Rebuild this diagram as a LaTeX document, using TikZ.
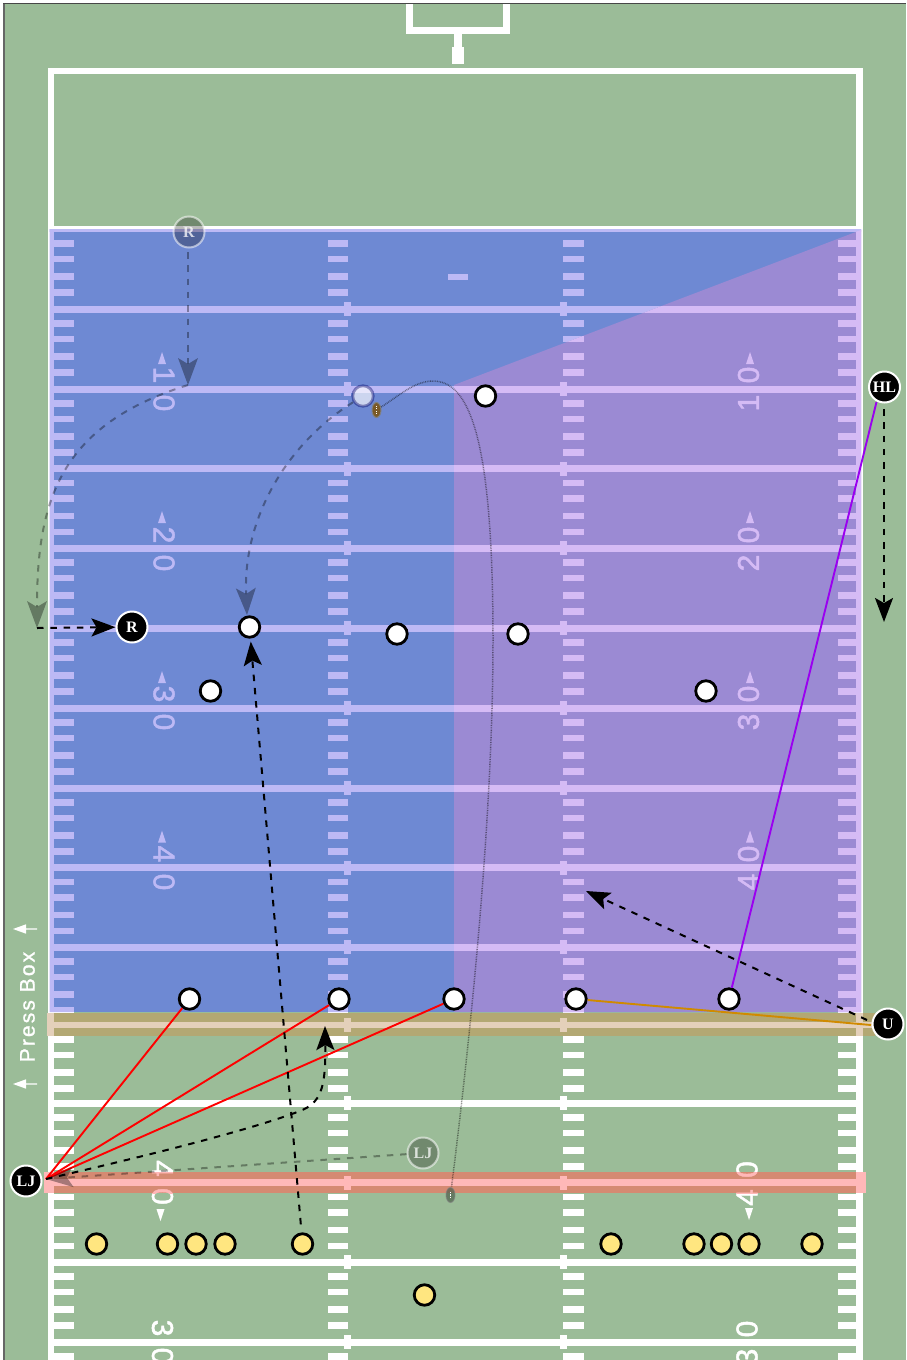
\documentclass[tikz,border=0pt]{standalone}
\usepackage{fontspec}
\setmainfont{Liberation Sans}
\newfontfamily\labelfont{Liberation Serif}[BoldFont={Liberation Serif Bold}]
\newfontfamily\numfont{Liberation Sans}[FakeBold=1.6]
\newfontfamily\pressfont{Liberation Sans}[FakeBold=1.2,LetterSpace=10]
\usetikzlibrary{arrows.meta,shapes.geometric}
\definecolor{turf}{HTML}{9BBC98}
\definecolor{framegray}{HTML}{666666}
\definecolor{bluezone}{HTML}{6E89D3}
\definecolor{purplezone}{HTML}{9B8AD3}
\definecolor{bluemark}{HTML}{BDB9F5}
\definecolor{purplemark}{HTML}{D5BBF5}
\definecolor{tanband}{HTML}{B3A873}
\definecolor{tanmark}{HTML}{E4D0BA}
\definecolor{redband}{HTML}{D58A72}
\definecolor{redmark}{HTML}{FFB8B8}
\definecolor{playeryellow}{HTML}{FFE680}
\definecolor{routeorange}{HTML}{D08A00}
\definecolor{routepurple}{HTML}{9A00F0}
\definecolor{ballbrown}{HTML}{7A5A28}
\tikzset{
  whiteplayer/.style={circle,draw=black,fill=white,line width=2.8pt,minimum size=20.5pt,inner sep=0pt},
  yellowplayer/.style={whiteplayer,fill=playeryellow},
  ghostplayer/.style={circle,draw=black!60!blue,draw opacity=.4,fill=white,fill opacity=.65,line width=2.8pt,minimum size=20.5pt,inner sep=0pt},
  official/.style={circle,draw=white,fill=black,line width=2pt,minimum size=31pt,inner sep=0pt,text=white,font=\labelfont\bfseries\fontsize{16}{16}\selectfont},
  ghostofficial/.style={official,draw opacity=.55,fill opacity=.27,text opacity=.75},
  ballnode/.style={ellipse,draw=gray,line width=1pt,fill=ballbrown,minimum width=9pt,minimum height=15pt,inner sep=0pt},
  yardnum/.style={inner sep=0pt,font=\numfont\fontsize{30}{30}\selectfont},
  route/.style={draw=black,line width=2pt,dash pattern=on 6.5pt off 6.8pt},
  ghostroute/.style={route,opacity=.35},
  headtip/.style={-{Stealth[length=24pt,width=18pt,inset=5pt]}},
  ghosttip/.style={-{Stealth[length=27pt,width=20pt,inset=6pt,line width=0pt]}},
  flightpath/.style={draw=black,draw opacity=.45,line width=1.5pt,dash pattern=on .8pt off .9pt},
  callline/.style={line width=1.9pt},
}
\newcommand{\fieldmarks}[1]{%
  \fill[#1] (48,68) rectangle (54,1360);
  \fill[#1] (856,68) rectangle (863,1360);
  \fill[#1] (48,68) rectangle (863,74);
  \fill[#1] (48,225.5) rectangle (863,232);
  \fill[#1] (448,273.5) rectangle (468,280);
  \foreach \ly in {309,389,468.5,548,628,708,788,867.5,947,1025,1103,1182.5,1262,1342}{
    \fill[#1] (54,\ly-3.5) rectangle (857,\ly+3.5);
    \fill[#1] (344,\ly-7) rectangle (351,\ly+7);
    \fill[#1] (560,\ly-7) rectangle (567,\ly+7);
  }
  \foreach \ly in {229,309,389,468.5,548,628,708,788,867.5,947,1025,1103,1182.5,1262,1342}{
    \foreach \off in {14.5,30,47.5,63.5}{
      \fill[#1] (54,\ly+\off-3.3) rectangle (74,\ly+\off+3.3);
      \fill[#1] (327.5,\ly+\off-3.3) rectangle (348,\ly+\off+3.3);
      \fill[#1] (563,\ly+\off-3.3) rectangle (584,\ly+\off+3.3);
      \fill[#1] (838,\ly+\off-3.3) rectangle (857,\ly+\off+3.3);
    }
  }
}
\newcommand{\digitsep}{\kern11.3pt }
\begin{document}
\begin{tikzpicture}[x=1pt,y=-1pt]
\useasboundingbox (0,0) rectangle (906,1360);
\clip (0,0) rectangle (906,1360);
% ground
\fill[white] (0,0) rectangle (906,1360);
\fill[turf] (3,3) rectangle (906,1360);
\fill[framegray] (3,3) rectangle (4.5,1360);
\fill[framegray!70!black] (3,3) rectangle (906,4);
% goal post
\fill[white] (406,4) rectangle (413,33.5);
\fill[white] (503,4) rectangle (510,33.5);
\fill[white] (406,27) rectangle (510,33.5);
\fill[white] (454,33) rectangle (462,48);
\fill[white] (452,47) rectangle (464,64);
% white markings, then coloured zones and their markings
\fieldmarks{white}
\fill[bluezone] (49.5,229) rectangle (861,1012);
\fill[purplezone] (454,1012) -- (454,385) -- (861,230) -- (861,1012) -- cycle;
\begin{scope}
  \clip (49.5,229) -- (861,229) -- (861,230) -- (454,385) -- (454,1012) -- (49.5,1012) -- cycle;
  \fieldmarks{bluemark}
\end{scope}
\begin{scope}
  \clip (454,1012) -- (454,385) -- (861,230) -- (861,1012) -- cycle;
  \fieldmarks{purplemark}
\end{scope}
% yard numbers
\node[yardnum,text=bluemark,rotate=-90] (nl10) at (164,389) {1\digitsep 0};
\node[yardnum,text=bluemark,rotate=-90] (nl20) at (164,549) {2\digitsep 0};
\node[yardnum,text=bluemark,rotate=-90] (nl30) at (164,708) {3\digitsep 0};
\node[yardnum,text=bluemark,rotate=-90] (nl40) at (164,868) {4\digitsep 0};
\node[yardnum,text=purplemark,rotate=90] (nr10) at (748.5,389) {1\digitsep 0};
\node[yardnum,text=purplemark,rotate=90] (nr20) at (748.5,549) {2\digitsep 0};
\node[yardnum,text=purplemark,rotate=90] (nr30) at (748.5,708) {3\digitsep 0};
\node[yardnum,text=purplemark,rotate=90] (nr40) at (748.5,868) {4\digitsep 0};
\node[yardnum,text=white,rotate=-90] (nl40b) at (162.5,1182.5) {4\digitsep 0};
\node[yardnum,text=white,rotate=90] (nr40b) at (747,1183.5) {4\digitsep 0};
\node[yardnum,text=white,rotate=-90] (nl30b) at (162.5,1342) {3\digitsep 0};
\node[yardnum,text=white,rotate=90] (nr30b) at (747,1343) {3\digitsep 0};
\foreach \ly in {389,548,708,867.5}{
  \fill[bluemark] (162,\ly-37) -- (166,\ly-25) -- (158,\ly-25) -- cycle;
  \fill[purplemark] (750,\ly-37) -- (754,\ly-25) -- (746,\ly-25) -- cycle;
}
\fill[white] (160.5,1221) -- (164.5,1209) -- (156.5,1209) -- cycle;
\fill[white] (749,1220) -- (753,1208) -- (745,1208) -- cycle;
% line of scrimmage band
\fill[tanband] (46.6,1013) rectangle (875,1036);
\fill[tanmark] (46.6,1022) rectangle (875,1028);
\fill[tanmark] (46.6,1013) rectangle (54,1036);
\fill[tanmark] (856,1013) rectangle (863,1036);
\fill[tanmark] (344,1018) rectangle (351,1032);
\fill[tanmark] (560,1018) rectangle (567,1032);
% first-down band
\fill[redband] (44,1172) rectangle (866,1193);
\fill[redmark] (44,1179) rectangle (866,1186);
\fill[redmark] (44,1172) rectangle (54,1193);
\fill[redmark] (856,1172) rectangle (866,1193);
\fill[redmark] (344,1175.5) rectangle (351,1189.5);
\fill[redmark] (560,1175.5) rectangle (567,1189.5);
\begin{scope}
  \clip (60,1172) rectangle (850,1193);
  \node[yardnum,text=redmark,rotate=-90] (nl40c) at (162.5,1182.5) {4\digitsep 0};
  \node[yardnum,text=redmark,rotate=90] (nr40c) at (747,1183.5) {4\digitsep 0};
\end{scope}
% press box label
\node[inner sep=0pt,text=white,rotate=90,anchor=south,font=\pressfont\fontsize{21}{21}\selectfont] (press) at (35,1007) {Press Box};
\fill[white] (13,929) -- (26,924.3) -- (26,928.3) -- (37,928.3) -- (37,929.7) -- (26,929.7) -- (26,933.7) -- cycle;
\fill[white] (13,1084) -- (26,1079.3) -- (26,1083.3) -- (37,1083.3) -- (37,1084.7) -- (26,1084.7) -- (26,1088.7) -- cycle;
% balls
\node[ballnode] (ball) at (376.5,410) {};
\fill[white] (375.6,406) rectangle (377.4,407);
\fill[white] (375.6,408.3) rectangle (377.4,409.3);
\fill[white] (375.6,410.6) rectangle (377.4,411.6);
\fill[white] (375.6,412.9) rectangle (377.4,413.9);
\node[ballnode,draw=gray,fill=black!50!turf,draw opacity=.6,fill opacity=.7,minimum width=9pt,minimum height=15pt] (ballghost) at (450.5,1195) {};
\fill[white] (449.8,1191.5) rectangle (451.2,1193);
\fill[white] (449.8,1194) rectangle (451.2,1195.5);
\fill[white] (449.8,1196.5) rectangle (451.2,1198);
% players
\node[whiteplayer] (w1) at (189.5,999) {};
\node[whiteplayer] (w2) at (339,999) {};
\node[whiteplayer] (w3) at (454,999) {};
\node[whiteplayer] (w4) at (576,999) {};
\node[whiteplayer] (w5) at (729,999) {};
\node[whiteplayer] (d1) at (210.5,691) {};
\node[whiteplayer] (d2) at (249.5,627) {};
\node[whiteplayer] (d3) at (397,634) {};
\node[whiteplayer] (d4) at (518,634) {};
\node[whiteplayer] (d5) at (706,691) {};
\node[whiteplayer] (d6) at (485.5,396) {};
\node[ghostplayer] (qbghost) at (363,396) {};
\node[yellowplayer] (y1) at (96.5,1244) {};
\node[yellowplayer] (y2) at (167.5,1244) {};
\node[yellowplayer] (y3) at (196,1244) {};
\node[yellowplayer] (y4) at (225,1244) {};
\node[yellowplayer] (y5) at (302.5,1244) {};
\node[yellowplayer] (y6) at (611,1244) {};
\node[yellowplayer] (y7) at (694,1244) {};
\node[yellowplayer] (y8) at (721.5,1244) {};
\node[yellowplayer] (y9) at (749,1244) {};
\node[yellowplayer] (y10) at (812,1244) {};
\node[yellowplayer] (y11) at (424.5,1295) {};
% officials
\node[official] (R) at (132,627) {R};
\node[official] (HL) at (884.5,387) {HL};
\node[official] (U) at (888,1024) {U};
\node[official] (LJ) at (26,1181) {LJ};
\node[ghostofficial] (Rghost) at (189,232) {R};
\node[ghostofficial] (LJghost) at (423,1153) {LJ};
% free ends
\coordinate (ljpoint) at (46,1179);
\coordinate (hlpoint) at (876.5,402);
\coordinate (upoint) at (871,1025);
\coordinate (ustart) at (867,1020);
\coordinate (uend) at (586,891);
\coordinate (rturn) at (188,385);
\coordinate (rside) at (37,628);
\coordinate (hlend) at (884,622);
\coordinate (hlstart) at (884,409);
\coordinate (qbend) at (247,615);
\coordinate (ljend) at (325,1026);
\coordinate (rstart) at (188,252);
% calls
\draw[callline,red] (ljpoint) -- (w1);
\draw[callline,red] (ljpoint) -- (w2);
\draw[callline,red] (ljpoint) -- (w3);
\draw[callline,routepurple] (hlpoint) -- (w5);
\draw[callline,routeorange] (upoint) -- (w4);
% movement
\draw[ghostroute,ghosttip] (rstart) -- (rturn);
\draw[ghostroute,ghosttip] (rturn) .. controls (60,425) and (37,500) .. (rside);
\draw[route,headtip] (rside) -- (R);
\draw[route,headtip] (hlstart) -- (hlend);
\draw[ghostroute,ghosttip] (qbghost) .. controls (285,445) and (243,520) .. (qbend);
\draw[route,headtip,shorten <=8pt,shorten >=3pt] (y5) -- (d2);
\draw[route,headtip] (ljpoint) .. controls (150,1155) and (250,1130) .. (300,1111) .. controls (320,1103) and (326,1090) .. (ljend);
\draw[ghostroute,ghosttip] (LJghost) -- (ljpoint);
\draw[route,headtip] (ustart) -- (uend);
\draw[flightpath] (ball) .. controls (400,395) and (415,381) .. (433,381) .. controls (470,381) and (493,440) .. (493,640) .. controls (493,800) and (475,1000) .. (ballghost);
\end{tikzpicture}
\end{document}
